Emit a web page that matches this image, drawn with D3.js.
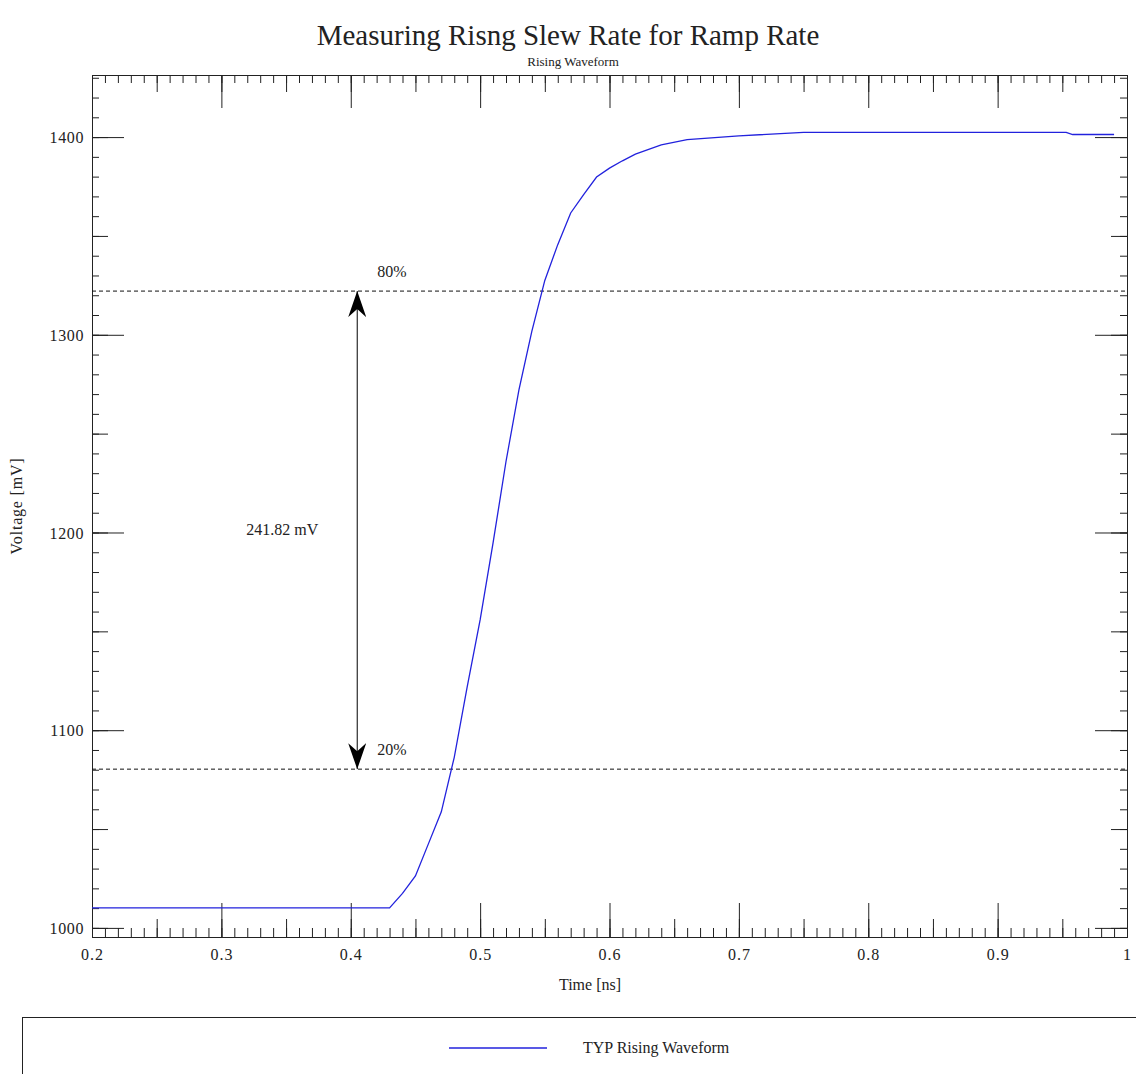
<!DOCTYPE html>
<html>
<head>
<meta charset="utf-8">
<script src="https://cdn.jsdelivr.net/npm/d3@7"></script>
<style>
  body { margin: 0; background: #fff; }
  text { font-family: "Liberation Serif", "Times New Roman", serif; fill: #222; }
</style>
</head>
<body>
<div id="chart"></div>
<script>
// waveform samples (ns, mV)
const timeNs = [0.2, 0.43, 0.44, 0.45, 0.46, 0.47, 0.48, 0.49, 0.50, 0.51, 0.52, 0.53, 0.54, 0.55,
    0.56, 0.57, 0.58, 0.59, 0.60, 0.61, 0.62, 0.64, 0.66, 0.70, 0.75, 0.953, 0.958, 0.99];
const voltageMv = [1010.1, 1010.1, 1017.5, 1026.3, 1042.5, 1058.7, 1086.3, 1121.9, 1155.8, 1194.7, 1235.9, 1272.1, 1301.9, 1327.5,
    1345.6, 1361.6, 1370.9, 1379.8, 1384.3, 1388.0, 1391.4, 1396.0, 1398.7, 1400.6, 1402.4, 1402.4, 1401.3, 1401.3];

const xTickLabels = [0.2, 0.3, 0.4, 0.5, 0.6, 0.7, 0.8, 0.9, 1];
const yTickLabels = [1000, 1100, 1200, 1300, 1400];

const levelNames = ["20%", "80%"];
const levelMv = [1080.3, 1322.1];
const arrowTime = 0.405;
const deltaText = "241.82 mV";

const W = 1136, H = 1074;
const margin = {top: 75, right: 9, bottom: 137, left: 92},
    width = W - margin.left - margin.right,
    height = H - margin.top - margin.bottom;

const svg = d3.select("#chart")
    .append("svg")
        .attr("width", W)
        .attr("height", H);

svg.append("text")
    .attr("x", 568).attr("y", 45)
    .attr("text-anchor", "middle")
    .style("font-size", "29px")
    .text("Measuring Risng Slew Rate for Ramp Rate");

svg.append("text")
    .attr("x", 573).attr("y", 66)
    .attr("text-anchor", "middle")
    .style("font-size", "13px")
    .text("Rising Waveform");

const g = svg.append("g")
    .attr("transform", "translate(" + margin.left + "," + margin.top + ")");

const x = d3.scaleLinear()
    .domain([0.2, 1.0])
    .range([0, width]);

const y = d3.scaleLinear()
    .domain([995.4, 1431.4])
    .range([height, 0]);

const xMinor = d3.range(20, 101).map(d => d / 100);
const xMid = d3.range(4, 21).map(d => d / 20);
const yMinor = d3.range(1000, 1431, 10);
const yMid = d3.range(1000, 1431, 50);

const styleAxis = sel => {
    sel.select(".domain").attr("stroke", "#222");
    sel.selectAll(".tick line").attr("stroke", "#222");
};

// bottom
[[xMinor, 9], [xMid, 18]].forEach(([vals, len]) => {
    g.append("g")
        .attr("transform", "translate(0," + height + ")")
        .call(d3.axisBottom(x).tickValues(vals).tickSizeInner(-len).tickSizeOuter(0).tickFormat(""))
        .call(styleAxis);
});
g.append("g")
    .attr("transform", "translate(0," + height + ")")
    .call(d3.axisBottom(x).tickValues(xTickLabels).tickSizeInner(-34).tickSizeOuter(0)
        .tickFormat(d => d === 1 ? "1" : d3.format(".1f")(d)))
    .call(styleAxis)
    .call(a => a.selectAll(".tick text")
        .attr("y", 12)
        .style("font-family", "Liberation Serif")
        .style("font-size", "16px")
        .style("letter-spacing", "1px")
        .attr("fill", "#222"));

// top
[[xMinor, 8], [xMid, 17], [xTickLabels, 33]].forEach(([vals, len]) => {
    g.append("g")
        .call(d3.axisTop(x).tickValues(vals).tickSizeInner(-len).tickSizeOuter(0).tickFormat(""))
        .call(styleAxis);
});

// left
[[yMinor, 7], [yMid, 16]].forEach(([vals, len]) => {
    g.append("g")
        .call(d3.axisLeft(y).tickValues(vals).tickSizeInner(-len).tickSizeOuter(0).tickFormat(""))
        .call(styleAxis);
});
g.append("g")
    .call(d3.axisLeft(y).tickValues(yTickLabels).tickSizeInner(-32).tickSizeOuter(0).tickFormat(d3.format("d")))
    .call(styleAxis)
    .call(a => a.selectAll(".tick text")
        .attr("x", -8)
        .attr("dy", "0.35em")
        .style("font-family", "Liberation Serif")
        .style("font-size", "16px")
        .style("letter-spacing", "0.6px")
        .attr("fill", "#222"));

// right
[[yMinor, 7], [yMid, 16], [yTickLabels, 32]].forEach(([vals, len]) => {
    g.append("g")
        .attr("transform", "translate(" + width + ",0)")
        .call(d3.axisRight(y).tickValues(vals).tickSizeInner(-len).tickSizeOuter(0).tickFormat(""))
        .call(styleAxis);
});

// 20% / 80% levels
g.selectAll(".level")
    .data(levelMv)
    .join("line")
        .attr("class", "level")
        .attr("x1", 0)
        .attr("x2", width)
        .attr("y1", d => y(d))
        .attr("y2", d => y(d))
        .attr("stroke", "#111")
        .attr("stroke-dasharray", "4,3");

g.selectAll(".level-label")
    .data(levelMv)
    .join("text")
        .attr("class", "level-label")
        .attr("x", x(arrowTime) + 20)
        .attr("y", d => y(d) - 14)
        .style("font-size", "16px")
        .text((d, i) => levelNames[i]);

// waveform
const series = timeNs.map((t, i) => ({t: t, v: voltageMv[i]}));
g.append("path")
    .datum(series)
    .attr("fill", "none")
    .attr("stroke", "#2222dd")
    .attr("stroke-width", 1.3)
    .attr("d", d3.line().x(d => x(d.t)).y(d => y(d.v)));

// double headed arrow
const defs = svg.append("defs");
defs.append("marker")
    .attr("id", "head")
    .attr("viewBox", "0 0 26 18")
    .attr("refX", 26).attr("refY", 9)
    .attr("markerUnits", "userSpaceOnUse")
    .attr("markerWidth", 26).attr("markerHeight", 18)
    .attr("orient", "auto-start-reverse")
    .append("path")
        .attr("d", "M0,0 L26,9 L0,18 L8,9 Z")
        .attr("fill", "#000");

g.append("line")
    .attr("x1", x(arrowTime)).attr("x2", x(arrowTime))
    .attr("y1", y(levelMv[0])).attr("y2", y(levelMv[1]))
    .attr("stroke", "#000")
    .attr("marker-start", "url(#head)")
    .attr("marker-end", "url(#head)");

g.append("text")
    .attr("x", x(arrowTime) - 75)
    .attr("y", y((levelMv[0] + levelMv[1]) / 2) + 5)
    .attr("text-anchor", "middle")
    .style("font-size", "16px")
    .text(deltaText);

// axis titles
svg.append("text")
    .attr("transform", "translate(22," + (margin.top + height / 2) + ") rotate(-90)")
    .attr("text-anchor", "middle")
    .style("font-size", "16px")
    .style("letter-spacing", "0.8px")
    .text("Voltage [mV]");

svg.append("text")
    .attr("x", 590).attr("y", 990)
    .attr("text-anchor", "middle")
    .style("font-size", "16px")
    .text("Time [ns]");

// legend
const legend = svg.append("g");
legend.append("rect")
    .attr("x", 22.5).attr("y", 1017.5)
    .attr("width", 1200).attr("height", 100)
    .attr("fill", "none")
    .attr("stroke", "#222");
legend.append("line")
    .attr("x1", 449).attr("x2", 547)
    .attr("y1", 1048).attr("y2", 1048)
    .attr("stroke", "#2222dd")
    .attr("stroke-width", 1.3);
legend.append("text")
    .attr("x", 583).attr("y", 1053)
    .style("font-size", "16px")
    .text("TYP Rising Waveform");
</script>
</body>
</html>
